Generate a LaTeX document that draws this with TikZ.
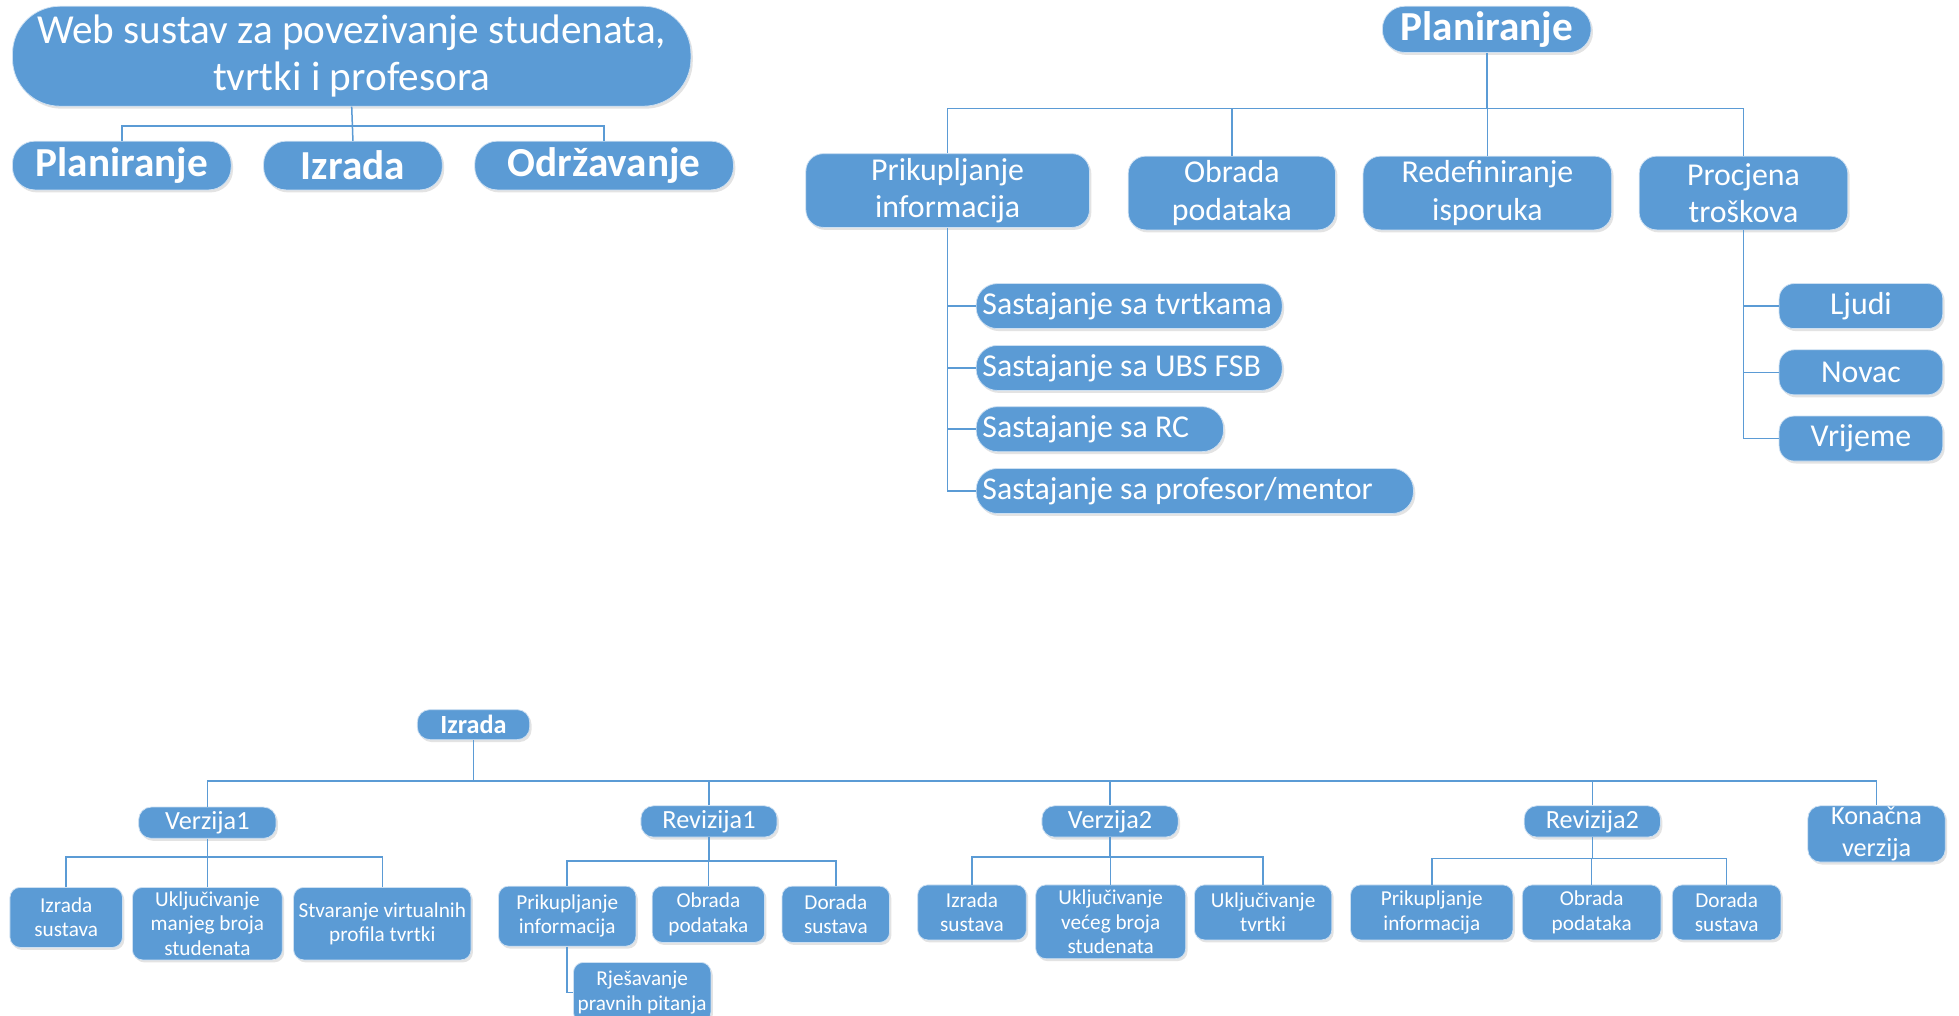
\documentclass[tikz,border=0pt]{standalone}
\usepackage{fontspec}
\setmainfont{Carlito}
\usetikzlibrary{positioning, calc, shadows}
\definecolor{myblue}{RGB}{91,155,213}
\definecolor{myedge}{RGB}{205,224,242}
\newcommand{\meettext}[2]{\makebox[#1][l]{#2}}
\tikzset{
  box/.style={rectangle, fill=myblue, draw=myedge, line width=0.6pt,
    text=white, align=center, inner sep=0pt,
    drop shadow={opacity=0.22, shadow xshift=1.5pt, shadow yshift=-2pt}},
  rootbox/.style={box, rounded corners=38pt, minimum width=543pt,
    minimum height=80pt, font=\fontsize{33}{38}\selectfont},
  phasebox/.style={box, rounded corners=18pt, minimum height=39pt,
    font=\fontsize{33}{38}\selectfont\bfseries},
  planbox/.style={box, rounded corners=14pt, minimum height=59pt,
    font=\fontsize{25.5}{30}\selectfont},
  meetbox/.style={box, anchor=west, rounded corners=17pt,
    minimum height=36pt, inner xsep=5pt, font=\fontsize{25.5}{30}\selectfont},
  costbox/.style={box, rounded corners=12pt, minimum width=131pt,
    minimum height=36pt, font=\fontsize{25.5}{30}\selectfont},
  stagebox/.style={box, rounded corners=10pt, minimum height=25pt,
    font=\fontsize{21}{25}\selectfont},
  taskbox/.style={box, anchor=north, rounded corners=8pt,
    font=\fontsize{17}{19.5}\selectfont},
  conn/.style={draw=myblue, line width=1.2pt}
}

\begin{document}
\begin{tikzpicture}[x=1pt, y=-1pt]
  \fill[white] (0,0) rectangle (1568,813);
  \useasboundingbox (0,0) rectangle (1568,813);

  % Project and its phases
  \node[rootbox] (root) at (281.5,45) {Web sustav za povezivanje studenata,\\tvrtki i profesora};
  \node[phasebox, minimum width=175pt] (pl) at (97.5,132.5) {Planiranje};
  \node[phasebox, minimum width=143pt] (iz) at (282.5,132.5) {Izrada};
  \node[phasebox, minimum width=207pt] (od) at (483.5,132.5) {Održavanje};
  \coordinate (bar1) at (0,101);
  \draw[conn] (root.south) -- (iz.north);
  \draw[conn] (pl.north) |- (root.south |- bar1) -| (od.north);

  % Planiranje
  \node[phasebox, minimum width=167pt, minimum height=37pt] (plan) at (1190,23.5) {Planiranje};
  \node[planbox, minimum width=227pt] (pk) at (758.5,152.5) {Prikupljanje\\informacija};
  \node[planbox, minimum width=166pt] (op) at (986,154.5) {Obrada\\podataka};
  \node[planbox, minimum width=199pt] (ri) at (1190.5,154.5) {Redefiniranje\\isporuka};
  \node[planbox, minimum width=167pt] (pt) at (1395.5,154.5) {Procjena\\troškova};
  \coordinate (bar2) at (0,87);
  \draw[conn] (plan.south) -- (plan.south |- bar2);
  \draw[conn] (pk.north) |- (plan.south |- bar2) -| (pt.north);
  \foreach \n in {op, ri} \draw[conn] (\n.north) -- (\n.north |- bar2);

  \node[meetbox] (s1) at (781,245) {\meettext{235pt}{Sastajanje sa tvrtkama}};
  \node[meetbox] (s2) at (781,294.5) {\meettext{235pt}{Sastajanje sa UBS FSB}};
  \node[meetbox] (s3) at (781,343.5) {\meettext{188pt}{Sastajanje sa RC}};
  \node[meetbox] (s4) at (781,393) {\meettext{340pt}{Sastajanje sa profesor/mentor}};
  \draw[conn] (pk.south) |- (s4.west);
  \foreach \n in {s1, s2, s3} \draw[conn] (pk.south |- \n.west) -- (\n.west);

  \node[costbox] (lj) at (1489.5,245) {Ljudi};
  \node[costbox] (nv) at (1489.5,298) {Novac};
  \node[costbox] (vr) at (1489.5,351) {Vrijeme};
  \draw[conn] (pt.south) |- (vr.west);
  \foreach \n in {lj, nv} \draw[conn] (pt.south |- \n.west) -- (\n.west);

  % Izrada
  \node[stagebox, minimum width=90pt, minimum height=24pt, font=\fontsize{21}{25}\selectfont\bfseries] (izr) at (379,580) {Izrada};
  \node[stagebox, minimum width=110pt] (v1) at (166,658.5) {Verzija1};
  \node[stagebox, minimum width=109pt] (r1) at (567.5,657.5) {Revizija1};
  \node[stagebox, minimum width=109pt] (v2) at (888.5,657.5) {Verzija2};
  \node[stagebox, minimum width=109pt] (r2) at (1274.5,657.5) {Revizija2};
  \node[stagebox, minimum width=110pt, minimum height=45pt] (kon) at (1502,667.5) {Konačna\\verzija};
  \coordinate (bar3) at (0,625);
  \draw[conn] (izr.south) -- (izr.south |- bar3);
  \draw[conn] (v1.north) |- (izr.south |- bar3) -| (kon.north);
  \foreach \n in {r1, v2, r2} \draw[conn] (\n.north) -- (\n.north |- bar3);

  \node[taskbox, minimum width=90pt, minimum height=48pt] (ia1) at (53,710) {Izrada\\sustava};
  \node[taskbox, minimum width=120pt, minimum height=58pt] (uk1) at (166,710) {Uključivanje\\manjeg broja\\studenata};
  \node[taskbox, minimum width=142pt, minimum height=58pt] (sv1) at (306,710) {Stvaranje virtualnih\\profila tvrtki};

  \node[taskbox, minimum width=110pt, minimum height=48pt] (pi1) at (454,709) {Prikupljanje\\informacija};
  \node[taskbox, minimum width=90pt, minimum height=45pt] (ob1) at (567,709) {Obrada\\podataka};
  \node[taskbox, minimum width=86pt, minimum height=45pt] (do1) at (669,709) {Dorada\\sustava};
  \node[taskbox, minimum width=110pt, minimum height=48pt] (rj1) at (514,770) {Rješavanje\\pravnih pitanja};
  \draw[conn] (pi1.south) |- (rj1.west);

  \node[taskbox, minimum width=87pt, minimum height=44pt] (ia2) at (778,708) {Izrada\\sustava};
  \node[taskbox, minimum width=120pt, minimum height=59pt] (uk2) at (889,708) {Uključivanje\\većeg broja\\studenata};
  \node[taskbox, minimum width=110pt, minimum height=44pt] (ut2) at (1011,708) {Uključivanje\\tvrtki};

  \node[taskbox, minimum width=130pt, minimum height=44pt] (pi2) at (1146,708) {Prikupljanje\\informacija};
  \node[taskbox, minimum width=111pt, minimum height=44pt] (ob2) at (1274,708) {Obrada\\podataka};
  \node[taskbox, minimum width=87pt, minimum height=44pt] (do2) at (1382,708) {Dorada\\sustava};

  \foreach \p/\a/\m/\b/\y in {v1/ia1/uk1/sv1/686, r1/pi1/ob1/do1/689, v2/ia2/uk2/ut2/686, r2/pi2/ob2/do2/687} {
    \coordinate (lvl) at (0,\y);
    \draw[conn] (\p.south) -- (\p.south |- lvl);
    \draw[conn] (\a.north) |- (\p.south |- lvl) -| (\b.north);
    \draw[conn] (\m.north) -- (\m.north |- lvl);
  }
\end{tikzpicture}
\end{document}
